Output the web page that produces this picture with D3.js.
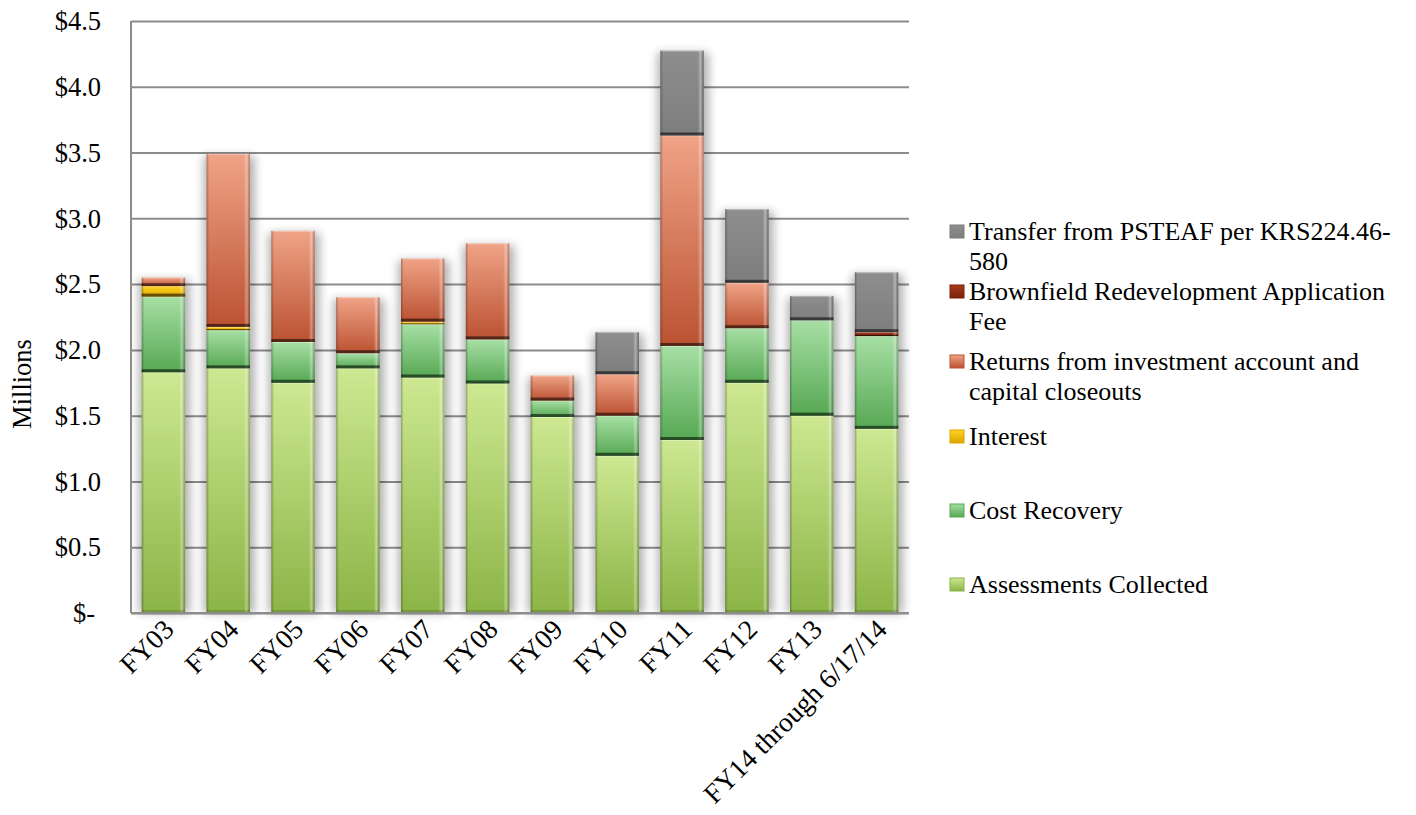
<!DOCTYPE html>
<html>
<head>
<meta charset="utf-8">
<script src="https://cdn.jsdelivr.net/npm/d3@7"></script>
<style>
  body { margin: 0; background: #fff; }
  text { font-family: "Liberation Serif", "Times New Roman", serif; fill: #000; }
</style>
</head>
<body>
<svg id="chart" width="1416" height="815"></svg>
<script>
// categories and series (millions of dollars)
var categories = ["FY03", "FY04", "FY05", "FY06", "FY07", "FY08", "FY09", "FY10", "FY11", "FY12", "FY13", "FY14 through 6/17/14"];

var assessments  = [1.83, 1.86, 1.75, 1.86, 1.79, 1.745, 1.49, 1.195, 1.315, 1.75, 1.50, 1.40];
var costRecovery = [0.575, 0.29, 0.31, 0.115, 0.405, 0.335, 0.125, 0.305, 0.715, 0.415, 0.725, 0.705];
var interest     = [0.08, 0.025, 0, 0, 0.02, 0, 0, 0, 0, 0, 0, 0];
var returns      = [0.065, 1.315, 0.845, 0.425, 0.48, 0.73, 0.19, 0.315, 1.60, 0.345, 0, 0];
var brownfield   = [0, 0, 0, 0, 0, 0, 0, 0, 0, 0, 0, 0.03];
var transfer     = [0, 0, 0, 0, 0, 0, 0, 0.32, 0.645, 0.56, 0.185, 0.455];

var seriesNames = [
  "Assessments Collected",
  "Cost Recovery",
  "Interest",
  "Returns from investment account and capital closeouts",
  "Brownfield Redevelopment Application Fee",
  "Transfer from PSTEAF per KRS224.46-580"
];
var yTicks = [0, 0.5, 1.0, 1.5, 2.0, 2.5, 3.0, 3.5, 4.0, 4.5];

// colours, bottom of stack first
var topColors = ["#cde891", "#a7dfa4", "#ffd526", "#f0a387", "#a93a1b", "#8e8e8e"];
var botColors = ["#8bb446", "#56a853", "#dca400", "#bb5232", "#7a210b", "#7d7d7d"];

var svg = d3.select("#chart");
// note: "top" is taken by window.top, so plot edges get their own names
var plotL = 131, plotR = 909, plotT = 21, plotB = 613;

var x = d3.scaleBand()
  .domain(categories)
  .range([plotL, plotR])
  .paddingInner(0.33)
  .paddingOuter(0.165);

var y = d3.scaleLinear().domain([0, 4.5]).range([plotB, plotT]);

var rows = categories.map(function(c, i) {
  return { cat: c, s0: assessments[i], s1: costRecovery[i], s2: interest[i],
           s3: returns[i], s4: brownfield[i], s5: transfer[i] };
});
var keys = ["s0", "s1", "s2", "s3", "s4", "s5"];
var stacked = d3.stack().keys(keys)(rows);

var defs = svg.append("defs");
keys.forEach(function(k, i) {
  var g = defs.append("linearGradient").attr("id", "grad" + i)
    .attr("x1", 0).attr("y1", 0).attr("x2", 0).attr("y2", 1);
  g.append("stop").attr("offset", "0%").attr("stop-color", topColors[i]);
  g.append("stop").attr("offset", "100%").attr("stop-color", botColors[i]);
});
var side = defs.append("linearGradient").attr("id", "side")
  .attr("x1", 0).attr("y1", 0).attr("x2", 1).attr("y2", 0);
side.append("stop").attr("offset", "0%").attr("stop-color", "#000").attr("stop-opacity", 0.28);
side.append("stop").attr("offset", "6%").attr("stop-color", "#000").attr("stop-opacity", 0);
side.append("stop").attr("offset", "86%").attr("stop-color", "#fff").attr("stop-opacity", 0);
side.append("stop").attr("offset", "93%").attr("stop-color", "#fff").attr("stop-opacity", 0.35);
side.append("stop").attr("offset", "100%").attr("stop-color", "#000").attr("stop-opacity", 0.2);

var blur = defs.append("filter").attr("id", "blur")
  .attr("x", "-50%").attr("y", "-20%").attr("width", "200%").attr("height", "140%");
blur.append("feGaussianBlur").attr("stdDeviation", 5);

// gridlines
svg.append("g")
  .attr("transform", "translate(" + plotL + ",0)")
  .call(d3.axisLeft(y).tickValues(yTicks).tickSize(-(plotR - plotL)).tickFormat(""))
  .call(function(g) {
    g.select(".domain").remove();
    g.selectAll(".tick line").attr("stroke", "#8c8c8c").attr("stroke-width", 2);
  });

// bar shadows
svg.append("g").selectAll("rect")
  .data(rows)
  .enter().append("rect")
  .attr("x", function(d) { return x(d.cat) - 3; })
  .attr("width", x.bandwidth() + 8)
  .attr("y", function(d, i) { return y(stacked[5][i][1]) + 2; })
  .attr("height", function(d, i) { return y(0) - y(stacked[5][i][1]) - 2; })
  .attr("fill", "#000")
  .attr("opacity", 0.3)
  .attr("filter", "url(#blur)");

// segments
var segs = svg.append("g").selectAll("g")
  .data(stacked)
  .enter().append("g");

segs.each(function(layer, li) {
  var g = d3.select(this);
  var pts = layer.filter(function(d) { return d[1] - d[0] > 0; });
  var seg = g.selectAll("g").data(pts).enter().append("g");
  seg.append("rect")
    .attr("x", function(d) { return x(d.data.cat); })
    .attr("width", x.bandwidth())
    .attr("y", function(d) { return y(d[1]); })
    .attr("height", function(d) { return y(d[0]) - y(d[1]); })
    .attr("fill", "url(#grad" + li + ")");
  seg.append("rect")
    .attr("x", function(d) { return x(d.data.cat); })
    .attr("width", x.bandwidth())
    .attr("y", function(d) { return y(d[1]); })
    .attr("height", function(d) { return y(d[0]) - y(d[1]); })
    .attr("fill", "url(#side)");
  // light top edge
  seg.append("rect")
    .attr("x", function(d) { return x(d.data.cat) + 1; })
    .attr("width", x.bandwidth() - 2)
    .attr("y", function(d) { return y(d[1]); })
    .attr("height", 1)
    .attr("fill", "#fff").attr("opacity", 0.35);
  // dark bottom bevel
  seg.append("rect")
    .attr("x", function(d) { return x(d.data.cat); })
    .attr("width", x.bandwidth())
    .attr("y", function(d) {
      var h = y(d[0]) - y(d[1]);
      return y(d[0]) - Math.min(3, h / 3);
    })
    .attr("height", function(d) {
      var h = y(d[0]) - y(d[1]);
      return Math.min(3, h / 3);
    })
    .attr("fill", "#000").attr("opacity", li == 0 ? 0.15 : 0.55);
});

// axis lines
svg.append("line").attr("x1", plotL).attr("x2", plotL).attr("y1", plotT).attr("y2", plotB)
  .attr("stroke", "#8c8c8c").attr("stroke-width", 2);
svg.append("line").attr("x1", plotL).attr("x2", plotR).attr("y1", plotB).attr("y2", plotB)
  .attr("stroke", "#8c8c8c").attr("stroke-width", 2);

// y labels
svg.append("g").selectAll("text")
  .data(yTicks)
  .enter().append("text")
  .attr("x", function(d) { return d == 0 ? plotL - 36 : plotL - 30; })
  .attr("y", function(d) { return y(d); })
  .attr("dy", "0.35em")
  .attr("text-anchor", "end")
  .style("font-size", "26.5px")
  .text(function(d) { return d == 0 ? "$-" : "$" + d.toFixed(1); });

svg.append("text")
  .attr("transform", "translate(31,384) rotate(-90)")
  .attr("text-anchor", "middle")
  .style("font-size", "26.5px")
  .text("Millions");

// x labels
svg.append("g").selectAll("text")
  .data(categories)
  .enter().append("text")
  .attr("transform", function(d) {
    return "translate(" + (x(d) + x.bandwidth() / 2 + 12) + ",631) rotate(-45)";
  })
  .attr("text-anchor", "end")
  .style("font-size", "27.5px")
  .text(function(d) { return d; });

// legend, top entry first
var legendBase = [240, 300, 370, 445, 519, 593];
var legend = svg.append("g");
seriesNames.slice().reverse().forEach(function(name, j) {
  var li = seriesNames.length - 1 - j;
  var by = legendBase[j];
  legend.append("rect")
    .attr("x", 950).attr("y", by - 15).attr("width", 14).attr("height", 13)
    .attr("fill", "url(#grad" + li + ")")
    .attr("stroke", botColors[li]).attr("stroke-width", 1);
  var t = legend.append("text").attr("x", 969).attr("y", by).style("font-size", "26px");
  // wrap at spaces and hyphens
  var words = name.split(/(?<=[ \-])/);
  var line = "", lineNo = 0;
  var ts = t.append("tspan").attr("x", 969).attr("y", by);
  words.forEach(function(w) {
    ts.text(line + w);
    if (ts.node().getComputedTextLength() > 440 && line != "") {
      ts.text(line.trim());
      lineNo++;
      line = w;
      ts = t.append("tspan").attr("x", 969).attr("y", by + lineNo * 30).text(w);
    } else {
      line = line + w;
    }
  });
});
</script>
</body>
</html>
